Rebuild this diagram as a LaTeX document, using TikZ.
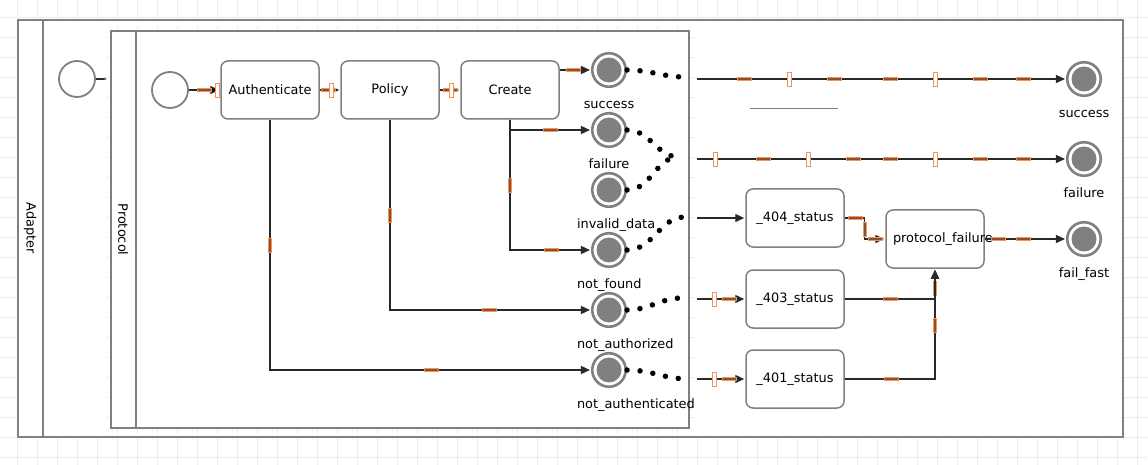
\documentclass[tikz,border=0pt]{standalone}
\usepackage{fontspec}
\setmainfont{DejaVu Sans}
\usetikzlibrary{arrows.meta,positioning,decorations.markings}
\definecolor{poolgray}{RGB}{128,128,128}
\definecolor{linedark}{RGB}{40,40,40}
\definecolor{gridgray}{RGB}{236,236,236}
\definecolor{mkfill}{RGB}{140,80,45}
\definecolor{mkline}{RGB}{240,150,90}

\begin{document}
\begin{tikzpicture}[x=1pt,y=-1pt,>={Triangle[length=9pt,width=8pt]},shorten >=1pt,node distance=60pt,
    font=\fontsize{12.9}{15}\selectfont,
    pool/.style={draw=poolgray, line width=1.8pt, fill=white, rectangle, inner sep=0pt},
    task/.style={draw=poolgray, line width=1.5pt, rounded corners=7pt, fill=white, minimum width=98pt, minimum height=58pt,
        inner sep=7pt, text width=84pt, align=center},
    startev/.style={circle, draw=poolgray, line width=1.8pt, fill=white, minimum size=36pt, inner sep=0pt},
    endev/.style={circle, draw=poolgray, line width=2.6pt, fill=white, minimum size=33.5pt, inner sep=0pt,
        path picture={\fill[poolgray] (path picture bounding box.center) circle (12.5pt);}},
    every label/.style={text height=9pt, text depth=2.5pt, inner sep=0pt, text width=64pt, align=center, yshift=-11pt},
    flow/.style={draw=linedark, line width=1.4pt},
    msg/.style={draw=black, line width=5.5pt, line cap=round, dash pattern=on 0pt off 13pt},
    hmk/.style={postaction={decorate,decoration={markings,mark=at position #1 with {\filldraw[fill=mkfill,draw=mkline,line width=0.5pt] (-7,-1.6) rectangle (7,1.6);}}}},
    vmk/.style={postaction={decorate,decoration={markings,mark=at position #1 with {\filldraw[fill=white,draw=mkline,line width=0.7pt] (-2,-7) rectangle (2,7);}}}}]
\useasboundingbox (0,0) rectangle (1148,465);

% grid
\draw[gridgray,line width=0.8pt] \foreach \g in {17,37,...,1137} {(\g,0) -- (\g,465)}
    \foreach \g in {17,37,...,457} {(0,\g) -- (1148,\g)};

% pools
\node[pool, minimum width=1105pt, minimum height=417pt] (adapter) at (570.5,228.5) {};
\draw[pool] ([xshift=26pt]adapter.north west) -- ([xshift=26pt]adapter.south west);
\node[rotate=-90] at ([xshift=13pt]adapter.west) {Adapter};

\begin{scope}
  \clip (107,27) rectangle (695,432);
  \draw[gridgray,line width=0.8pt] \foreach \g in {17,37,...,1137} {(\g,0) -- (\g,465)}
      \foreach \g in {17,37,...,457} {(0,\g) -- (1148,\g)};
\end{scope}
\node[pool, minimum width=578pt, minimum height=397pt] (protocol) at (400,229.5) {};
\draw[pool] ([xshift=26pt]protocol.north west) -- ([xshift=26pt]protocol.south west);
\node[rotate=-90] at ([xshift=13pt]protocol.west) {Protocol};

% adapter start
\node[startev] (s0) at (77,79) {};
\coordinate (stub) at (105,79);
\draw[flow] (s0) -- (stub);
\fill[mkfill] (stub) circle (1.5pt);

% protocol
\node[startev] (start) at (170,90) {};
\node[task] (auth) at (270,90) {Authenticate};
\node[task] (policy) [right of=auth, node distance=120pt] {Policy};
\node[task] (create) [right of=policy, node distance=120pt] {Create};

\node[endev, label=below:success] (success) at (609,70) {};
\node[endev, label=below:failure] (failure) [below of=success] {};
\node[endev, label=below:invalid\_data] (invalid) [below of=failure] {};
\node[endev, label=below:not\_found] (notfound) [below of=invalid] {};
\node[endev, label=below:not\_authorized] (notauthz) [below of=notfound] {};
\node[endev, label=below:not\_authenticated] (notauthn) [below of=notauthz] {};

\path[flow,->] (start)  edge[hmk=.5,vmk=.92] (auth)
               (auth)   edge[hmk=.4,vmk=.55] (policy)
               (policy) edge[hmk=.5,vmk=.55] (create);
\draw[flow,->,hmk=.42] (create.east |- success) -- (success);
\draw[flow,->,hmk=.55] (create.south) |- (failure);
\draw[flow,->,hmk=.31,hmk=.81] (create.south) |- (notfound);
\draw[flow,->,hmk=.245,hmk=.74] (policy) |- (notauthz);
\draw[flow,->,hmk=.22,hmk=.72] (auth) |- (notauthn);

% adapter side
\coordinate (ex1) at (686,77);
\coordinate (ex2) at (680,157);
\coordinate (ex3) at (686,217);
\coordinate (ex4) at (683,298);
\coordinate (ex5) at (689,379);
\coordinate (en1) at (697,79);
\coordinate (en2) at (697,159);
\coordinate (en3) at (697,218);
\coordinate (en4) at (697,299);
\coordinate (en5) at (697,379);

\draw[msg] (success) to[out=0,in=180] (ex1);
\draw[msg] (failure) to[out=0,in=180] (ex2);
\draw[msg] (invalid) to[out=0,in=180] (ex2);
\draw[msg] (notfound) to[out=0,in=180] (ex3);
\draw[msg] (notauthz) to[out=0,in=180] (ex4);
\draw[msg] (notauthn) to[out=0,in=180] (ex5);

\node[endev, label=below:success] (rsuccess) at (1084,79) {};
\node[endev, label=below:failure] (rfailure) [below of=rsuccess, node distance=80pt] {};
\node[endev, label=below:fail\_fast] (failfast) [below of=rfailure, node distance=80pt] {};

\node[task] (s404) at (795,218) {\_404\_status};
\node[task] (s403) [below of=s404, node distance=81pt] {\_403\_status};
\node[task] (s401) [below of=s403, node distance=80pt] {\_401\_status};
\node[task] (pfail) at (935,239) {protocol\_failure};

\draw[poolgray,line width=0.6pt] (750,108) -- (839,108);

\draw[flow,->,hmk=.127,vmk=.249,hmk=.371,hmk=.523,vmk=.645,hmk=.767,hmk=.883] (en1) -- (rsuccess);
\draw[flow,->,vmk=.049,hmk=.179,vmk=.301,hmk=.423,hmk=.523,vmk=.645,hmk=.767,hmk=.883] (en2) -- (rfailure);
\draw[flow,->] (en3) -- (s404);
\draw[flow,->,vmk=.35,hmk=.67] (en4) -- (s403);
\draw[flow,->,vmk=.35,hmk=.67] (en5) -- (s401);
\draw[flow,->,hmk=.17,hmk=.5,hmk=.83] (s404.east) -- ++(20,0) |- (pfail);
\draw[flow,->,hmk=.38,hmk=.84] (s403) -| (pfail);
\draw[flow,->,hmk=.23,hmk=.72] (s401) -| (pfail);
\draw[flow,->,hmk=.16,hmk=.48] (pfail) -- (failfast);
\end{tikzpicture}
\end{document}
